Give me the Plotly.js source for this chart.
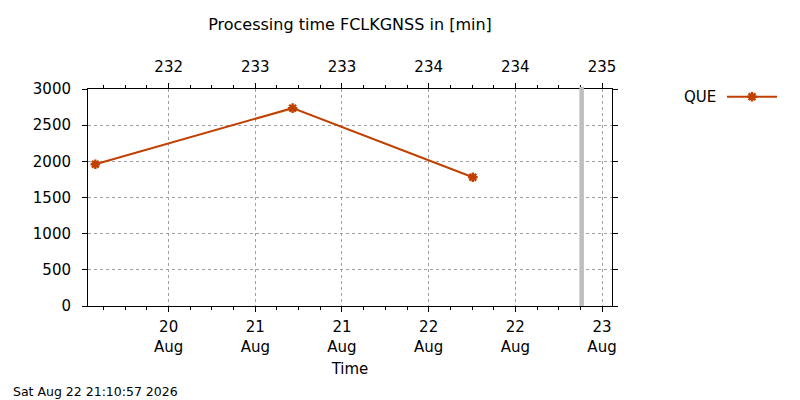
<!DOCTYPE html>
<html>
<head>
<meta charset="utf-8">
<script src="https://cdn.plot.ly/plotly-3.0.1.min.js"></script>
<style>html,body{margin:0;padding:0;background:#fff;}#chart{width:800px;height:400px;}</style>
</head>
<body>
<div id="chart"></div>
<script>
// ---- data ----
const seriesName = 'QUE';
const times = ['2026-08-20 01:51', '2026-08-21 05:10', '2026-08-22 06:07'];
const values = [1960, 2735, 1780];
const tickTimes = ['2026-08-20 12:00', '2026-08-21 00:00', '2026-08-21 12:00', '2026-08-22 00:00', '2026-08-22 12:00', '2026-08-23 00:00'];
const dayLabels = ['20', '21', '21', '22', '22', '23'];
const monthLabels = ['Aug', 'Aug', 'Aug', 'Aug', 'Aug', 'Aug'];
const dayOfYearLabels = ['232', '233', '233', '234', '234', '235'];
const xRange = ['2026-08-20 00:50', '2026-08-23 01:23'];
const yRange = [0, 3000];
const nowTime = '2026-08-22 21:10:57';
const titleText = 'Processing time FCLKGNSS in [min]';
const xTitle = 'Time';
const stampText = 'Sat Aug 22 21:10:57 2026';

const bottomText = dayLabels.map((d, i) => d + '<br>' + monthLabels[i]);
const FONT = 'DejaVu Sans, sans-serif';
const lineColor = '#c04000';
const gridColor = '#a0a0a0';
const minorStep = 3 * 3600 * 1000;

const data = [
  {
    x: times, y: values, xaxis: 'x', yaxis: 'y',
    type: 'scatter', mode: 'lines+markers', name: '',
    line: {color: lineColor, width: 2},
    marker: {symbol: 'asterisk-open', size: 8, color: lineColor, line: {color: lineColor, width: 2.4}},
    showlegend: true, hoverinfo: 'x+y'
  },
  {
    x: times, y: values, xaxis: 'x2', yaxis: 'y',
    type: 'scatter', mode: 'markers', marker: {opacity: 0},
    showlegend: false, hoverinfo: 'skip'
  }
];

const layout = {
  width: 800, height: 400,
  margin: {l: 88, r: 188, t: 89, b: 94},
  paper_bgcolor: '#fff', plot_bgcolor: '#fff',
  font: {family: FONT, size: 15, color: '#000'},
  title: {text: titleText, font: {family: FONT, size: 16, color: '#000'},
          x: 350 / 800, xanchor: 'center', xref: 'container',
          y: 1 - 24 / 400, yanchor: 'middle', yref: 'container'},
  xaxis: {
    type: 'date', range: xRange,
    tickmode: 'array', tickvals: tickTimes, ticktext: bottomText,
    ticks: 'outside', ticklen: 5, tickcolor: '#000', tickwidth: 1,
    ticklabelstandoff: 2,
    minor: {ticks: 'outside', ticklen: 3, tickcolor: '#000', dtick: minorStep, tick0: '2026-08-20 00:00', showgrid: false},
    showline: true, linecolor: '#000', linewidth: 1, mirror: false,
    showgrid: true, gridcolor: gridColor, griddash: 'dot', gridwidth: 1,
    zeroline: false,
    tickfont: {family: FONT, size: 15, color: '#000'},
    title: {text: xTitle, font: {family: FONT, size: 15, color: '#000'}, standoff: 8}
  },
  xaxis2: {
    type: 'date', range: xRange, overlaying: 'x', side: 'top', anchor: 'y',
    tickmode: 'array', tickvals: tickTimes, ticktext: dayOfYearLabels,
    ticks: 'outside', ticklen: 5, tickcolor: '#000', tickwidth: 1,
    ticklabelstandoff: 5,
    minor: {ticks: 'outside', ticklen: 3, tickcolor: '#000', dtick: minorStep, tick0: '2026-08-20 00:00', showgrid: false},
    showline: true, linecolor: '#000', linewidth: 1,
    showgrid: false, zeroline: false,
    tickfont: {family: FONT, size: 15, color: '#000'}
  },
  yaxis: {
    range: yRange, tickmode: 'linear', tick0: 0, dtick: 500,
    ticks: 'outside', ticklen: 5, tickcolor: '#000', tickwidth: 1,
    ticklabelstandoff: 8,
    showline: true, linecolor: '#000', linewidth: 1, mirror: 'ticks',
    showgrid: true, gridcolor: gridColor, griddash: 'dot', gridwidth: 1,
    zeroline: false,
    tickfont: {family: FONT, size: 15, color: '#000'}
  },
  shapes: [
    {type: 'line', xref: 'x', yref: 'paper', x0: nowTime, x1: nowTime, y0: 0, y1: 1.01,
     line: {color: '#bebebe', width: 4.5}}
  ],
  showlegend: true,
  legend: {x: (722 - 88) / 524, xanchor: 'left', y: (306 - 97) / 217, yanchor: 'middle',
           itemwidth: 50,
           bgcolor: 'rgba(0,0,0,0)', borderwidth: 0, font: {family: FONT, size: 15, color: '#000'}},
  annotations: [
    {text: seriesName, xref: 'paper', yref: 'paper', x: (718 - 88) / 524, xanchor: 'right',
     y: (306 - 97) / 217, yanchor: 'middle', showarrow: false,
     font: {family: FONT, size: 15, color: '#000'}},
    {text: stampText, xref: 'paper', yref: 'paper', x: (11 - 88) / 524, xanchor: 'left',
     y: (306 - 391) / 217, yanchor: 'middle', showarrow: false,
     font: {family: FONT, size: 12.5, color: '#000'}}
  ]
};

Plotly.newPlot('chart', data, layout, {displayModeBar: false, staticPlot: true});
</script>
</body>
</html>
